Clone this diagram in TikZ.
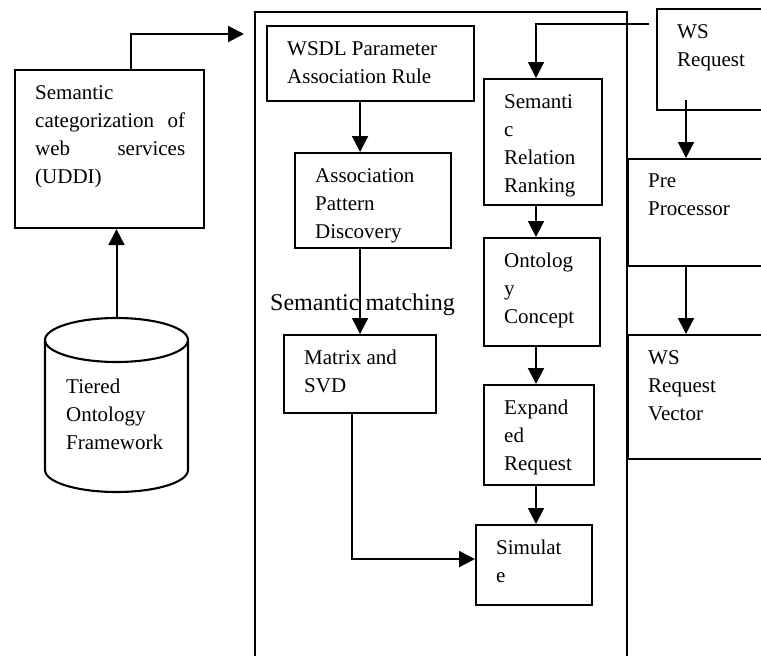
\documentclass[tikz,border=0pt]{standalone}
\usepackage{fontspec}
\setmainfont{Liberation Serif}
\usetikzlibrary{positioning, calc, arrows.meta}

\begin{document}
\begin{tikzpicture}[x=1pt, y=-1pt]
    \tikzset{
        box/.style={draw, line width=2.1pt, anchor=north west, inner sep=0pt}, % okvir brez besedila
        txt/.style={anchor=north west, align=left, inner sep=0pt, xshift=21pt, yshift=-16pt,
            font=\fontsize{21}{28}\selectfont}, % besedilo zgoraj levo
        arr/.style={-{Triangle[length=16pt, width=16pt]}, line width=2pt}, % puscica
    }
    \useasboundingbox (0,0) rectangle (761,656);
    \clip (0,0) rectangle (761,656);

    % left side
    \node[box, minimum width=189pt, minimum height=158pt,
        label={[txt, text width=150pt]north west:{Semantic\\categorization \hfill of\\web \hfill services\\(UDDI)}}] (cat) at (14,69) {};
    \node[minimum width=143pt, minimum height=174pt, inner sep=0pt, outer sep=0pt,
        label={[txt, yshift=-45pt]north west:{Tiered\\Ontology\\Framework}}] (tof) at (116.5,405) {};
    \draw[line width=2.1pt] ([yshift=-22pt]tof.north west) -- ([yshift=22pt]tof.south west)
        arc[start angle=180, end angle=360, x radius=71.5pt, y radius=22pt] -- ([yshift=-22pt]tof.north east);
    \draw[line width=2.1pt] ([yshift=-22pt]tof.north) ellipse[x radius=71.5pt, y radius=22pt];

    % middle frame
    \node[box, minimum width=372pt, minimum height=700pt] (engine) at (254,11) {};
    \node[box, minimum width=207pt, minimum height=75pt,
        label={[txt]north west:{WSDL Parameter\\Association Rule}}] (wsdl) at (266,25) {};
    \node[box, minimum width=156pt, minimum height=95pt,
        label={[txt]north west:{Association\\Pattern\\Discovery}}] (apd) at (294,152) {};
    \node[anchor=base west, inner sep=0pt, font=\fontsize{24}{28}\selectfont] (semmatch) at (270,310) {Semantic matching};
    \node[box, minimum width=152pt, minimum height=78pt,
        label={[txt]north west:{Matrix and\\SVD}}] (matrix) at (283,334) {};
    \node[box, minimum width=118pt, minimum height=126pt,
        label={[txt]north west:{Semanti\\c\\Relation\\Ranking}}] (srr) at (483,78) {};
    \node[box, minimum width=116pt, minimum height=108pt,
        label={[txt]north west:{Ontolog\\y\\Concept}}] (onto) at (483,237) {};
    \node[box, minimum width=110pt, minimum height=100pt,
        label={[txt]north west:{Expand\\ed\\Request}}] (expreq) at (483,384) {};
    \node[box, minimum width=116pt, minimum height=80pt,
        label={[txt]north west:{Simulat\\e}}] (sim) at (475,524) {};

    % right column
    \node[box, minimum width=150pt, minimum height=101pt,
        label={[txt]north west:{WS\\Request}}] (wsreq) at (656,8) {};
    \node[box, minimum width=180pt, minimum height=107pt,
        label={[txt]north west:{Pre\\Processor}}] (prep) at (627,158) {};
    \node[box, minimum width=180pt, minimum height=124pt,
        label={[txt]north west:{WS\\Request\\Vector}}] (wsvec) at (627,334) {};

    \coordinate (inlet) at (244,34);
    \coordinate (tap) at (649,24);
    \coordinate (col) at (536,24);
    \coordinate (rcol) at (686,100);

    \draw[arr] (tof.north) -- (tof.north |- cat.south);
    \draw[arr] ([xshift=21pt]cat.north) |- (inlet);
    \draw[arr] (wsdl.south -| matrix.north) -- (apd.north -| matrix.north);
    \draw[arr] (apd.south -| matrix.north) -- (matrix.north);
    \draw[arr] ([xshift=-8pt]matrix.south) |- ([yshift=6pt]sim.west);
    \draw[arr] (tap) -- (col) -- (col |- srr.north);
    \draw[arr] (srr.south -| col) -- (onto.north -| col);
    \draw[arr] (onto.south -| col) -- (expreq.north -| col);
    \draw[arr] (expreq.south -| col) -- (sim.north -| col);
    \draw[arr] (rcol) -- (rcol |- prep.north);
    \draw[arr] (prep.south -| rcol) -- (wsvec.north -| rcol);
\end{tikzpicture}
\end{document}
